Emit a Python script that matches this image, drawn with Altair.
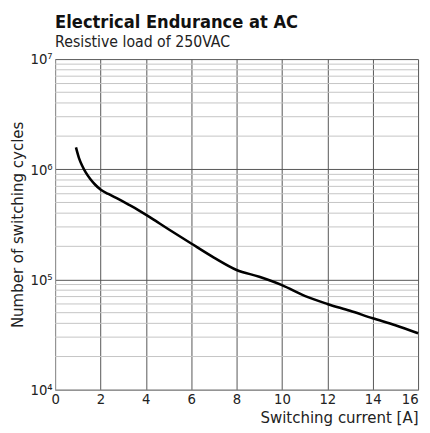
import altair as alt
import pandas as pd

current = [0.92, 1.05, 1.2, 1.35, 1.55, 1.77, 2.0, 2.35, 2.8, 3.2, 3.65, 4.05, 4.5,
           5, 6, 7, 8, 9, 10, 11, 12, 13, 14, 15, 16]
cycles = [1.58e6, 1.27e6, 1.07e6, 9.36e5, 8.17e5, 7.24e5, 6.55e5, 5.97e5, 5.35e5,
          4.83e5, 4.29e5, 3.82e5, 3.33e5, 2.86e5, 2.12e5, 1.58e5, 1.22e5, 1.06e5,
          8.9e4, 7.1e4, 6.0e4, 5.2e4, 4.45e4, 3.85e4, 3.25e4]
x_ticks = [0, 2, 4, 6, 8, 10, 12, 14, 16]
y_major = [1e4, 1e5, 1e6, 1e7]
y_minor = [m * d for d in [1e4, 1e5, 1e6] for m in range(2, 10)]

df = pd.DataFrame({"current": current, "cycles": cycles})
minor_df = pd.DataFrame({"cycles": y_minor})

FONT = "DejaVu Sans Condensed, Roboto Condensed, Roboto, sans-serif"

ysc = alt.Scale(type="log", domain=[1e4, 1e7], nice=False)
xsc = alt.Scale(domain=[0, 16], nice=False)

label_expr = ("datum.value > 5e6 ? '10\u2077' : datum.value > 5e5 ? '10\u2076' : "
              "datum.value > 5e4 ? '10\u2075' : '10\u2074'")

minor_layer = alt.Chart(minor_df).mark_rule(color="#c4c4c4", strokeWidth=1).encode(
    y=alt.Y("cycles:Q", scale=ysc),
)

line_layer = alt.Chart(df).mark_line(color="black", strokeWidth=2.6,
                                     interpolate="monotone").encode(
    x=alt.X("current:Q", scale=xsc,
            axis=alt.Axis(values=x_ticks, title="Switching current [A]",
                          titleAnchor="end", titleFontSize=17, titleFontWeight="normal",
                          titleFont=FONT, titleColor="#222", titlePadding=3,
                          labelFont=FONT, labelFontSize=15, labelColor="#222",
                          labelPadding=2, ticks=False, grid=True,
                          gridColor="#555", gridWidth=1, domainColor="#999",
                          labelAlign={"condition": {"test": "datum.value == 16",
                                                    "value": "right"},
                                      "value": "center"},
                          labelFlush=False)),
    y=alt.Y("cycles:Q", scale=ysc,
            axis=alt.Axis(values=y_major, labelExpr=label_expr,
                          title="Number of switching cycles", titleFont=FONT,
                          titleFontSize=17, titleFontWeight="normal", titleColor="#222",
                          titlePadding=4,
                          labelFont=FONT, labelFontSize=15, labelColor="#222",
                          ticks=False, labelPadding=3, grid=True, gridColor="#555",
                          gridWidth=1, domainColor="#999")),
)

chart = alt.layer(minor_layer, line_layer).properties(
    width=370, height=337,
    title=alt.TitleParams(text="Electrical Endurance at AC",
                          subtitle="Resistive load of 250VAC",
                          anchor="start", frame="group", font=FONT, fontSize=18.5,
                          fontWeight="bold", color="#111", subtitleFont=FONT,
                          subtitleFontSize=16, subtitleColor="#222", offset=2,
                          subtitlePadding=3),
    autosize=alt.AutoSizeParams(type="none"),
    padding={"left": 48, "top": 48, "right": 4, "bottom": 37},
).configure_view(stroke=None)

chart.save("out.html", embed_options={"renderer": "svg", "actions": False})
